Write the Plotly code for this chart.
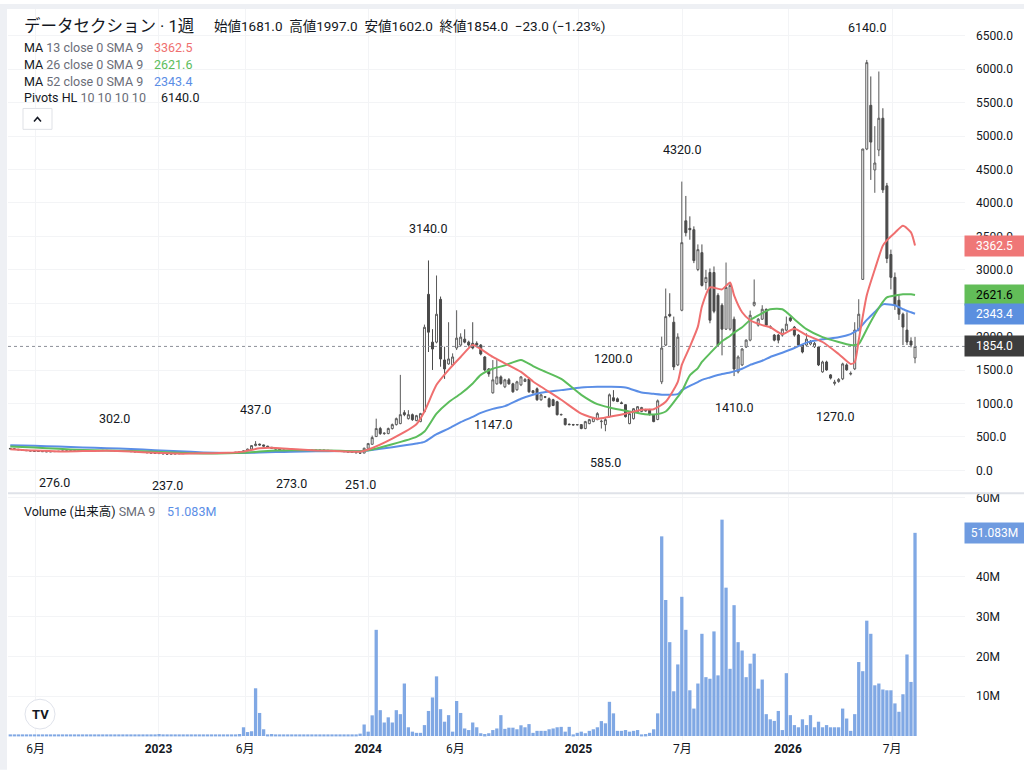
import pandas as pd
import plotly.graph_objects as go

# weekly candles, data section (TSE)
weeks = pd.date_range("2022-04-18", periods=226, freq="7D")

opens = [
    328, 322, 315, 308, 300, 295, 290, 286, 283, 280,
    278, 279, 282, 285, 288, 290, 292, 291, 293, 295,
    294, 296, 294, 296, 298, 297, 295, 292, 289, 286,
    283, 280, 277, 273, 268, 264, 259, 255, 251, 247,
    244, 246, 248, 250, 251, 252, 253, 255, 254, 256,
    257, 258, 259, 261, 262, 264, 266, 270, 276, 290,
    318, 370, 392, 380, 362, 345, 330, 318, 305, 295,
    286, 282, 288, 292, 296, 298, 300, 299, 301, 299,
    297, 294, 290, 285, 280, 274, 268, 263, 258, 330,
    390, 505, 625, 550, 550, 625, 684, 699, 863, 773,
    833, 744, 729, 877, 2633, 1918, 1918, 2558, 1651, 1592,
    1577, 1830, 1874, 1963, 1918, 1900, 1900, 1874, 1696, 1517,
    1160, 1294, 1398, 1250, 1354, 1294, 1205, 1279, 1330, 1368,
    1190, 1220, 1056, 1100, 1071, 1056, 1026, 830, 773, 690,
    684, 682, 684, 625, 699, 729, 758, 729, 684, 803,
    1086, 1070, 1010, 982, 699, 773, 877, 880, 900, 907,
    833, 760, 1324, 1874, 2335, 2216, 1577, 2395, 3733, 3620,
    3600, 3005, 3257, 2811, 2960, 2960, 2618, 2470, 2112, 2112,
    2261, 1473, 1577, 1845, 1948, 2470, 2172, 2261, 2410, 2150,
    2023, 2023, 2023, 2097, 2280, 2142, 2023, 1874, 1874, 1890,
    1850, 1845, 1473, 1621, 1428, 1300, 1330, 1369, 1577, 1440,
    1518, 2098, 2857, 4807, 5461, 4494, 4792, 5268, 4256, 3229,
    2887, 2545, 2336, 2098, 1935, 1681,
]
highs = [
    333, 326, 318, 311, 303, 298, 293, 289, 286, 283,
    283, 285, 288, 291, 293, 295, 294, 296, 298, 297,
    299, 298, 299, 299, 300, 300, 302, 294, 291, 288,
    285, 282, 279, 275, 270, 266, 261, 257, 253, 249,
    249, 251, 253, 254, 255, 256, 258, 257, 259, 260,
    261, 262, 264, 265, 267, 269, 274, 280, 295, 325,
    375, 437, 400, 384, 366, 349, 334, 322, 309, 298,
    290, 292, 296, 300, 302, 304, 303, 305, 303, 301,
    299, 296, 292, 287, 282, 276, 270, 266, 340, 410,
    520, 773, 650, 570, 640, 700, 790, 1428, 900, 900,
    850, 830, 860, 2180, 3140, 2112, 2915, 2600, 1850, 2216,
    1750, 2395, 2050, 2110, 1940, 2216, 1930, 1890, 1710, 1530,
    1650, 1650, 1420, 1370, 1380, 1310, 1340, 1410, 1380, 1390,
    1200, 1240, 1140, 1110, 1090, 1070, 1040, 850, 780, 700,
    695, 690, 690, 740, 770, 800, 870, 760, 780, 1150,
    1200, 1090, 1030, 990, 860, 930, 960, 950, 920, 920,
    840, 1060, 2000, 2720, 2650, 2300, 2050, 4320, 4105, 3800,
    3650, 3380, 3380, 3000, 3020, 3050, 2650, 2500, 3109, 2800,
    2300, 1720, 1830, 1960, 2390, 2856, 2280, 2470, 2420, 2170,
    2040, 2040, 2120, 2300, 2300, 2160, 2040, 1890, 2050, 1950,
    1920, 1860, 1640, 1640, 1440, 1354, 1380, 1610, 1600, 1480,
    2216, 2560, 4810, 6140, 5893, 5149, 5967, 5417, 4300, 3302,
    2960, 2618, 2360, 2365, 1990, 1997,
]
lows = [
    318, 312, 304, 297, 291, 286, 283, 280, 277, 277,
    277, 276, 280, 283, 286, 288, 289, 289, 291, 292,
    292, 292, 292, 294, 295, 293, 290, 287, 284, 281,
    278, 275, 271, 266, 262, 257, 253, 249, 245, 237,
    241, 244, 246, 248, 249, 250, 251, 252, 252, 254,
    255, 256, 257, 259, 260, 262, 264, 268, 274, 288,
    315, 360, 372, 358, 340, 326, 314, 301, 291, 276,
    273, 280, 286, 290, 294, 296, 296, 297, 296, 294,
    291, 287, 282, 277, 271, 265, 260, 251, 258, 325,
    385, 500, 530, 530, 540, 610, 670, 690, 810, 760,
    740, 735, 720, 870, 1770, 1502, 1900, 1550, 1368, 1580,
    1560, 1800, 1850, 1900, 1850, 1810, 1860, 1720, 1480, 1400,
    1147, 1280, 1280, 1230, 1280, 1160, 1190, 1260, 1320, 1160,
    1150, 1040, 1040, 1080, 940, 960, 820, 820, 670, 675,
    670, 670, 615, 615, 690, 720, 750, 625, 585, 790,
    1030, 1020, 990, 790, 690, 760, 870, 870, 880, 820,
    720, 750, 1290, 1860, 2290, 1500, 1560, 2380, 3500, 3450,
    3100, 2980, 2750, 2700, 2200, 2350, 1850, 1720, 2100, 2090,
    1410, 1450, 1560, 1830, 1930, 2450, 2150, 2250, 2150, 2120,
    1930, 1900, 2000, 2080, 2220, 2000, 1850, 1750, 1860, 1870,
    1830, 1560, 1460, 1490, 1360, 1270, 1310, 1350, 1490, 1420,
    1500, 2080, 2850, 4790, 4345, 4152, 4700, 4150, 3100, 2707,
    2400, 2250, 1874, 1875, 1840, 1602,
]
closes = [
    322, 315, 308, 300, 295, 290, 286, 283, 280, 278,
    279, 282, 285, 288, 290, 292, 291, 293, 295, 294,
    296, 294, 296, 298, 297, 295, 292, 289, 286, 283,
    280, 277, 273, 268, 264, 259, 255, 251, 247, 244,
    246, 248, 250, 251, 252, 253, 255, 254, 256, 257,
    258, 259, 261, 262, 264, 266, 270, 276, 290, 318,
    370, 392, 380, 362, 345, 330, 318, 305, 295, 286,
    282, 288, 292, 296, 298, 300, 299, 301, 299, 297,
    294, 290, 285, 280, 274, 268, 263, 258, 330, 400,
    490, 625, 550, 555, 625, 684, 773, 833, 833, 833,
    758, 818, 848, 2140, 2067, 1815, 2335, 1666, 1517, 1666,
    1696, 1978, 1993, 1918, 1874, 1830, 1874, 1740, 1502, 1443,
    1354, 1398, 1300, 1354, 1294, 1175, 1324, 1398, 1360, 1175,
    1160, 1056, 1130, 1095, 952, 970, 833, 835, 684, 684,
    680, 684, 625, 729, 758, 788, 848, 735, 758, 1130,
    1041, 1030, 1000, 803, 848, 922, 952, 940, 890, 833,
    729, 1040, 1830, 2300, 2310, 1547, 1993, 3406, 3555, 3600,
    3138, 3302, 2767, 2886, 2246, 2380, 1874, 2112, 2737, 2767,
    1517, 1696, 1815, 1948, 2320, 2514, 2261, 2410, 2172, 2140,
    1948, 1948, 2112, 2187, 2240, 2023, 1874, 1770, 1963, 1930,
    1900, 1577, 1621, 1502, 1380, 1320, 1360, 1592, 1503, 1450,
    2098, 2336, 4807, 6100, 4911, 4598, 5268, 4196, 3170, 2887,
    2470, 2336, 2143, 1920, 1875, 1854,
]
# volume in millions of shares
volume = [
    0.3, 0.25, 0.2, 0.3, 0.25, 0.2, 0.3, 0.2, 0.25, 0.3,
    0.2, 0.25, 0.3, 0.2, 0.2, 0.25, 0.3, 0.2, 0.2, 0.25,
    0.3, 0.2, 0.25, 0.2, 0.2, 0.4, 0.3, 0.2, 0.25, 0.2,
    0.2, 0.25, 0.2, 0.2, 0.3, 0.2, 0.4, 0.5, 0.4, 0.3,
    0.2, 0.25, 0.2, 0.3, 0.2, 0.25, 0.2, 0.2, 0.25, 0.3,
    0.2, 0.25, 0.3, 0.2, 0.3, 0.4, 0.3, 0.5, 2.2, 1.0,
    1.2, 12.0, 5.8, 1.7, 0.4, 0.5, 0.3, 0.4, 0.2, 0.3,
    0.3, 0.2, 0.4, 0.3, 0.2, 0.3, 0.4, 0.2, 0.3, 0.2,
    0.25, 0.2, 0.3, 0.2, 0.2, 0.3, 0.2, 0.6, 2.9, 1.1,
    5.2, 26.7, 6.5, 3.4, 4.7, 3.4, 6.5, 5.5, 13.2, 2.2,
    1.1, 0.8, 0.8, 2.75, 6.3, 9.7, 15.0, 6.75, 3.6, 5.25,
    1.1, 8.8, 5.8, 1.9, 1.5, 3.4, 2.2, 0.7, 0.5, 0.7,
    1.5, 1.9, 5.25, 1.8, 2.1, 2.1, 1.7, 2.7, 2.2, 3.0,
    0.8, 1.3, 1.3, 1.3, 1.7, 1.9, 2.2, 2.3, 1.1, 2.3,
    0.25, 0.8, 1.1, 0.7, 1.3, 1.7, 2.2, 3.75, 3.2, 8.6,
    5.7, 1.3, 1.3, 1.5, 1.1, 1.3, 1.5, 0.25, 0.5, 0.8,
    1.7, 5.7, 50.2, 34.2, 23.6, 11.25, 18.0, 35.0, 26.7, 11.5,
    6.9, 13.2, 25.7, 14.8, 14.4, 26.3, 15.25, 54.4, 37.3, 16.9,
    32.9, 23.6, 21.5, 14.8, 18.2, 20.7, 11.9, 14.2, 5.5, 4.2,
    3.8, 6.3, 1.5, 15.8, 5.25, 2.75, 2.2, 4.2, 2.75, 5.25,
    2.2, 3.6, 2.2, 2.75, 2.2, 2.2, 2.2, 6.9, 4.4, 1.3,
    5.5, 18.6, 16.3, 29.0, 25.7, 12.75, 13.2, 11.7, 11.5, 11.5,
    8.2, 6.1, 10.5, 20.5, 13.6, 51.083,
]

# moving averages read at these week indices
ma_week = [0, 6, 12, 18, 24, 30, 36, 42, 48, 54,
           58, 62, 66, 70, 76, 82, 87, 89, 95, 101,
           103, 106, 109, 112, 115, 117, 120, 123, 127, 130,
           132, 137, 142, 146, 149, 153, 157, 160, 163, 166,
           167, 169, 171, 172, 174, 177, 179, 180, 182, 184,
           187, 189, 192, 195, 198, 202, 206, 209, 210, 211,
           213, 215, 217, 218, 220, 222, 224, 225]
ma13 = [315, 295, 283, 288, 293, 282, 262, 250, 254, 262,
        280, 330, 335, 320, 298, 286, 278, 312, 476, 690,
        880, 1279, 1502, 1696, 1874, 1815, 1696, 1600, 1473, 1330,
        1250, 1056, 848, 773, 803, 848, 907, 915, 1026, 1324,
        1577, 1850, 2150, 2450, 2737, 2707, 2811, 2618, 2365, 2246,
        2172, 2140, 2038, 2120, 2023, 1920, 1740, 1592, 1620, 1950,
        2618, 3005, 3362, 3440, 3555, 3659, 3560, 3362.5]
ma26 = [355, 340, 322, 305, 295, 290, 278, 263, 253, 256,
        264, 280, 295, 302, 300, 293, 287, 300, 390, 500,
        580, 848, 1020, 1145, 1300, 1428, 1520, 1570, 1651, 1560,
        1502, 1368, 1130, 990, 940, 890, 848, 835, 880, 1100,
        1180, 1420, 1530, 1621, 1750, 1930, 2010, 2060, 2140, 2250,
        2350, 2410, 2410, 2261, 2112, 1993, 1920, 1874, 1874, 1890,
        2112, 2330, 2520, 2588, 2615, 2633, 2633, 2621.6]
ma52 = [375, 366, 355, 343, 332, 318, 302, 286, 268, 259,
        260, 266, 273, 279, 286, 288, 287, 298, 345, 400,
        425, 540, 625, 720, 800, 860, 920, 960, 1071, 1130,
        1160, 1200, 1240, 1250, 1250, 1240, 1165, 1145, 1130, 1140,
        1200, 1265, 1320, 1354, 1390, 1440, 1465, 1480, 1520, 1577,
        1640, 1696, 1760, 1830, 1910, 1960, 1990, 2038, 2070, 2112,
        2250, 2370, 2484, 2486, 2470, 2410, 2365, 2343.4]

# pivots HL 10/10
pivot_high_week = [26, 61, 104, 150, 167, 213]
pivot_high = [302, 437, 3140, 1200, 4320, 6140]
pivot_low_week = [11, 39, 70, 87, 120, 148, 180, 205]
pivot_low = [276, 237, 273, 251, 1147, 585, 1410, 1270]

tick_dates = ["2022-06-01", "2023-01-01", "2023-06-01", "2024-01-01", "2024-06-01",
              "2025-01-01", "2025-07-01", "2026-01-01", "2026-07-01"]
tick_text = ["6月", "<b>2023</b>", "6月", "<b>2024</b>", "6月",
             "<b>2025</b>", "7月", "<b>2026</b>", "7月"]

RED, GREEN, BLUE = "#ef6f6f", "#5cbd5c", "#5b8ee6"
TXT, GREY = "#131722", "#6a6d78"
FONT = "Roboto, 'Noto Sans CJK JP', sans-serif"

# figure pixel helpers (plot area is 8..965 x 5..740)
def px(x):
    return (x - 8) / 957

def py(y):
    return (740 - y) / 735

fig = go.Figure()

fig.add_trace(go.Candlestick(
    x=weeks, open=opens, high=highs, low=lows, close=closes,
    increasing=dict(line=dict(color="#5a5a5a", width=1), fillcolor="#ffffff"),
    decreasing=dict(line=dict(color="#4a4a4a", width=1), fillcolor="#4a4a4a"),
    whiskerwidth=0, showlegend=False, hoverinfo="skip",
    xaxis="x", yaxis="y",
))

ma_x = weeks[ma_week]
for vals, col in [(ma52, BLUE), (ma26, GREEN), (ma13, RED)]:
    fig.add_trace(go.Scatter(
        x=ma_x, y=vals, mode="lines",
        line=dict(color=col, width=2, shape="spline", smoothing=0.6),
        showlegend=False, hoverinfo="skip", xaxis="x", yaxis="y",
    ))

fig.add_trace(go.Bar(
    x=weeks, y=volume, marker_color="#80a8e4", marker_line_width=0,
    showlegend=False, hoverinfo="skip", xaxis="x2", yaxis="y2",
))

# pivot labels
for w, v in zip(pivot_high_week, pivot_high):
    fig.add_annotation(x=weeks[w], y=v, xref="x", yref="y", text=f"{v:.1f}",
                       showarrow=False, yshift=32, font=dict(size=12.5, color=TXT))
for w, v in zip(pivot_low_week, pivot_low):
    fig.add_annotation(x=weeks[w], y=v, xref="x", yref="y", text=f"{v:.1f}",
                       showarrow=False, yshift=-31, font=dict(size=12.5, color=TXT))

# price scale labels on the right
def scale_label(val, yref, bg, fg, text):
    fig.add_annotation(x=1, xref="paper", xanchor="left", xshift=-1,
                       y=val, yref=yref, text=text, showarrow=False,
                       bgcolor=bg, borderpad=3, width=53,
                       font=dict(size=12, color=fg))

scale_label(ma13[-1], "y", "#ef7777", "white", f"{ma13[-1]:.1f}")
scale_label(ma26[-1], "y", "#62bd58", "black", f"{ma26[-1]:.1f}")
scale_label(ma52[-1], "y", "#5b8fdf", "white", f"{ma52[-1]:.1f}")
scale_label(closes[-1], "y", "#3d3d3d", "white", f"{closes[-1]:.1f}")
scale_label(volume[-1], "y2", "#6f9be0", "white", f"{volume[-1]:.3f}M")

# legend / header text
def text(x, y, s, size=12.5, color=TXT, anchor="left"):
    fig.add_annotation(x=px(x), y=py(y), xref="paper", yref="paper", text=s,
                       showarrow=False, xanchor=anchor, yanchor="middle",
                       font=dict(size=size, color=color))

text(22, 22, "データセクション · 1週", size=16.5)
text(212, 22, "始値1681.0  高値1997.0  安値1602.0  終値1854.0  −23.0 (−1.23%)", size=13.5)
text(22, 44, f"MA <span style='color:{GREY}'>13 close 0 SMA 9</span>")
text(22, 61, f"MA <span style='color:{GREY}'>26 close 0 SMA 9</span>")
text(22, 78, f"MA <span style='color:{GREY}'>52 close 0 SMA 9</span>")
text(22, 94, f"Pivots HL <span style='color:{GREY}'>10 10 10 10</span>")
text(152, 44, f"{ma13[-1]:.1f}", color=RED)
text(152, 61, f"{ma26[-1]:.1f}", color=GREEN)
text(152, 78, f"{ma52[-1]:.1f}", color=BLUE)
text(159, 94, f"{max(pivot_high):.1f}")
text(22, 510, f"Volume (出来高) <span style='color:{GREY}'>SMA 9</span>")
text(165, 510, f"{volume[-1]:.3f}M", color=BLUE)
text(40, 714, "<b>TV</b>", size=13, anchor="center")

shapes = [
    # outer frame strips
    dict(type="rect", xref="paper", yref="paper", x0=px(0), x1=px(7), y0=py(0), y1=py(770),
         fillcolor="#eef0f4", line_width=0, layer="below"),
    dict(type="rect", xref="paper", yref="paper", x0=px(0), x1=px(1024), y0=py(0), y1=py(5),
         fillcolor="#eef0f4", line_width=0, layer="below"),
    # pane separator
    dict(type="line", xref="paper", yref="paper", x0=px(8), x1=px(1024), y0=py(492), y1=py(492),
         line=dict(color="#dfe2e8", width=2)),
    # last price line
    dict(type="line", xref="paper", yref="y", x0=0, x1=1, y0=closes[-1], y1=closes[-1],
         line=dict(color="#8c8f98", width=1, dash="dot")),
    # collapse button
    dict(type="rect", xref="paper", yref="paper", x0=px(23), x1=px(52), y0=py(105), y1=py(126),
         fillcolor="white", line=dict(color="#dfe1e6", width=1)),
    dict(type="path", xref="paper", yref="paper",
         path=f"M {px(34)},{py(118)} L {px(37.5)},{py(114)} L {px(41)},{py(118)}",
         line=dict(color=TXT, width=1.5)),
    # logo badge
    dict(type="circle", xref="paper", yref="paper", x0=px(25), x1=px(55), y0=py(699), y1=py(729),
         fillcolor="white", line=dict(color="#e0e3eb", width=1)),
]

fig.update_layout(
    width=1024, height=770,
    margin=dict(l=8, r=59, t=5, b=30),
    paper_bgcolor="white", plot_bgcolor="white",
    font=dict(family=FONT, color=TXT, size=12),
    shapes=shapes,
    bargap=0.18,
    xaxis=dict(anchor="y", domain=[0, 1], matches="x2", showticklabels=False,
               tickvals=tick_dates, showgrid=True, gridcolor="#f3f4f6",
               rangeslider=dict(visible=False), showline=False, zeroline=False,
               range=["2022-04-14", "2026-11-05"]),
    xaxis2=dict(anchor="y2", domain=[0, 1], tickvals=tick_dates, ticktext=tick_text,
                showgrid=True, gridcolor="#f3f4f6", showline=False, zeroline=False,
                range=["2022-04-14", "2026-11-05"], tickfont=dict(size=12, color=TXT)),
    yaxis=dict(domain=[0.339, 1], side="right", range=[-327, 6902],
               tickvals=list(range(0, 7000, 500)), tickformat=".1f",
               showgrid=True, gridcolor="#f3f4f6", zeroline=False, showline=False,
               ticklabelstandoff=10, tickfont=dict(size=12, color=TXT)),
    yaxis2=dict(domain=[0, 0.336], side="right", range=[-1, 60.75],
                tickvals=[10, 20, 30, 40, 60], ticktext=["10M", "20M", "30M", "40M", "60M"],
                showgrid=True, gridcolor="#f3f4f6", zeroline=False, showline=False,
                ticklabelstandoff=10, tickfont=dict(size=12, color=TXT)),
)

# the page body has a default margin; drop it so the figure fills the window
fig.write_html("out.html", config={"displayModeBar": False},
               post_script="document.body.style.margin='0';")
